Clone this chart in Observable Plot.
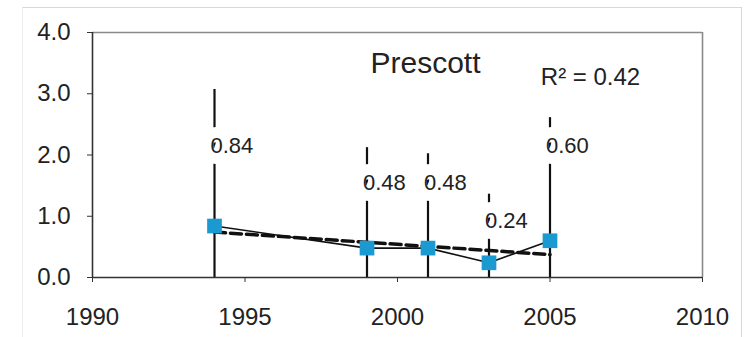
<!DOCTYPE html>
<html><head><meta charset="utf-8">
<script src="https://cdn.jsdelivr.net/npm/d3@7"></script>
<script src="https://cdn.jsdelivr.net/npm/@observablehq/plot@0.6"></script>
<style>
html,body{margin:0;padding:0;background:#fff;}
#wrap{position:relative;width:746px;height:337px;overflow:hidden;background:#fff;}
#wrap svg{position:absolute;left:0;top:0;}
#border{position:absolute;left:22px;top:7px;width:718px;height:340px;border-top:1px solid #d8d8d8;border-right:1px solid #d8d8d8;border-left:1px solid #eee;pointer-events:none;}
</style></head><body>
<div id="wrap"><div id="border"></div></div>
<script>
// Data
const years   = [1994, 1999, 2001, 2003, 2005];
const means   = [0.84, 0.48, 0.48, 0.24, 0.60];
const upper   = [3.07, 2.12, 2.02, 1.36, 2.61];   // top of error bars
const labelAt = [2.15, 1.55, 1.55, 0.93, 2.14];   // where the value labels sit (value units)
const xTicks  = [1990, 1995, 2000, 2005, 2010];
const yTicks  = [0, 1, 2, 3, 4];
const title   = "Prescott";
const r2Text  = "R\u00B2 = 0.42";

const data = years.map((y, i) => ({year: y, mean: means[i], upper: upper[i], labelY: labelAt[i], label: means[i].toFixed(2)}));

const font = "'Liberation Sans', Arial, Helvetica, sans-serif";

const chart = Plot.plot({
  width: 746,
  height: 337,
  marginLeft: 92,
  marginRight: 44,
  marginTop: 32,
  marginBottom: 60,
  style: {fontFamily: font, fontSize: "24px", color: "#222", background: "transparent", overflow: "visible"},
  x: {domain: [1990, 2010], label: null},
  y: {domain: [0, 4], label: null},
  marks: [
    // error bars
    Plot.ruleX(data, {x: "year", y1: 0, y2: "upper", stroke: "#111", strokeWidth: 2.2}),
    // value labels with white halo that cuts the error bars
    Plot.text(data, {x: "year", y: "labelY", text: "label", textAnchor: "start", dx: -4,
      fontSize: 22, fill: "#222", stroke: "white", strokeWidth: 22, strokeLinejoin: "round", paintOrder: "stroke"}),
    // frame
    Plot.ruleY([4], {stroke: "#8a8a8a", strokeWidth: 1.6}),
    Plot.ruleX([2010], {stroke: "#8a8a8a", strokeWidth: 1.6}),
    Plot.ruleX([1990], {stroke: "#333", strokeWidth: 1.6}),
    Plot.ruleY([0], {stroke: "#333", strokeWidth: 1.6}),
    // axes
    Plot.axisX({ticks: xTicks, tickFormat: d => String(d), tickSize: 5, tickPadding: 25, stroke: "#333", fill: "#222", fontSize: 24, label: null}),
    Plot.axisY({ticks: yTicks, tickFormat: d => d.toFixed(1), tickSize: 5, tickPadding: 17, stroke: "#333", fill: "#222", fontSize: 24, label: null}),
    // linear trend
    Plot.linearRegressionY(data, {x: "year", y: "mean", stroke: "#111", strokeWidth: 3.5, strokeDasharray: "11,5", ci: 0}),
    // data line and markers
    Plot.line(data, {x: "year", y: "mean", stroke: "#111", strokeWidth: 1.6}),
    Plot.dot(data, {x: "year", y: "mean", symbol: "square", r: 8.3, fill: "#1b9ad2", stroke: "none"}),
    // annotations
    Plot.text([title], {frameAnchor: "top", lineAnchor: "bottom", dx: 28, dy: 40, fontSize: 30, fill: "#222"}),
    Plot.text([r2Text], {frameAnchor: "top", lineAnchor: "bottom", dx: 193, dy: 52, fontSize: 24, fill: "#222"})
  ]
});
document.getElementById("wrap").insertBefore(chart, document.getElementById("border"));
</script>
</body></html>
